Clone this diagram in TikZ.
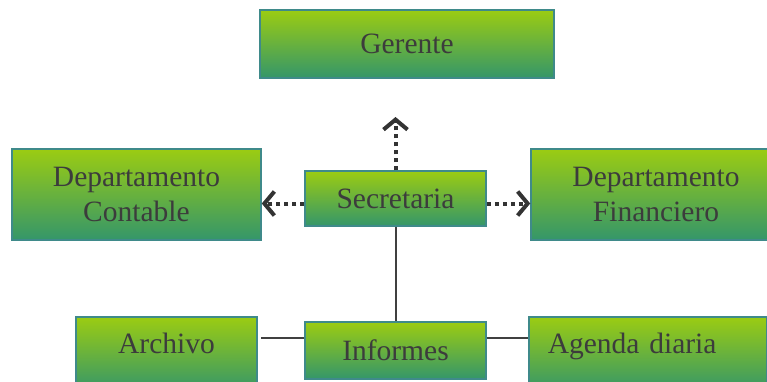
\documentclass[tikz,border=0pt]{standalone}
\usepackage{fontspec}
\setmainfont{Liberation Serif}
\newfontfamily\orgfont{Liberation Serif}
\usetikzlibrary{positioning,arrows.meta}
\definecolor{orgTop}{HTML}{9BCC12}
\definecolor{orgBottom}{HTML}{34966A}
\definecolor{orgBorder}{HTML}{3F8A8A}
\definecolor{orgText}{HTML}{3C3C3C}
\definecolor{orgLine}{HTML}{404040}
\definecolor{orgArrow}{HTML}{333333}

\begin{document}
\begin{tikzpicture}[x=1pt, y=-1pt,
    box/.style={draw=orgBorder, line width=1.5pt, top color=orgTop, bottom color=orgBottom, text=orgText, align=center, inner sep=0pt, font=\orgfont\fontsize{29.5}{35}\selectfont},
    lowbox/.style={box, anchor=north, inner ysep=8pt, text height=29pt, text depth=30pt},
    link/.style={line width=2pt, orgLine},
    dotarrow/.style={-{Straight Barb[length=10pt, width=24pt]}, line width=4pt, dash pattern=on 4pt off 4pt, orgArrow}
]
    \useasboundingbox (0,0) rectangle (767,381);

    % Upper levels
    \node[box, minimum width=294pt, minimum height=68pt] (gerente) at (407,44) {Gerente};
    \node[box, minimum width=181pt, minimum height=55pt] (secretaria) at (395.5,198.5) {Secretaria};
    \node[box, minimum width=249pt, minimum height=91pt] (contable) at (136.5,194.5) {Departamento\\Contable};
    \node[box, minimum width=250pt, minimum height=91pt] (financiero) at (656,194.5) {Departamento\\Financiero};

    % Lower level
    \node[lowbox, minimum width=181pt] (archivo) at (166.5,316) {Archivo};
    \node[box, minimum width=181pt, minimum height=57pt] (informes) at (395.5,350.5) {Informes};
    \node[lowbox, anchor=north west, text width=200pt, align=left, inner xsep=19pt] (agenda) at (528,316) {Agenda diaria};

    % Arrows
    \coordinate (gerenteTip) at (395.5,117);
    \draw[dotarrow] (secretaria) -- (gerenteTip);
    \draw[dotarrow] ([yshift=-5pt]secretaria.west) -- ([yshift=-5pt]secretaria.west -| contable.east);
    \draw[dotarrow] ([yshift=-5pt]secretaria.east) -- ([yshift=-5pt]secretaria.east -| financiero.west);

    % Links
    \draw[link] (secretaria) -- (informes);
    \draw[link] ([yshift=12.5pt]informes.west) -- ([xshift=3pt, yshift=12.5pt]informes.west -| archivo.east);
    \draw[link] ([yshift=12.5pt]informes.east) -- ([yshift=12.5pt]informes.east -| agenda.west);
\end{tikzpicture}
\end{document}
